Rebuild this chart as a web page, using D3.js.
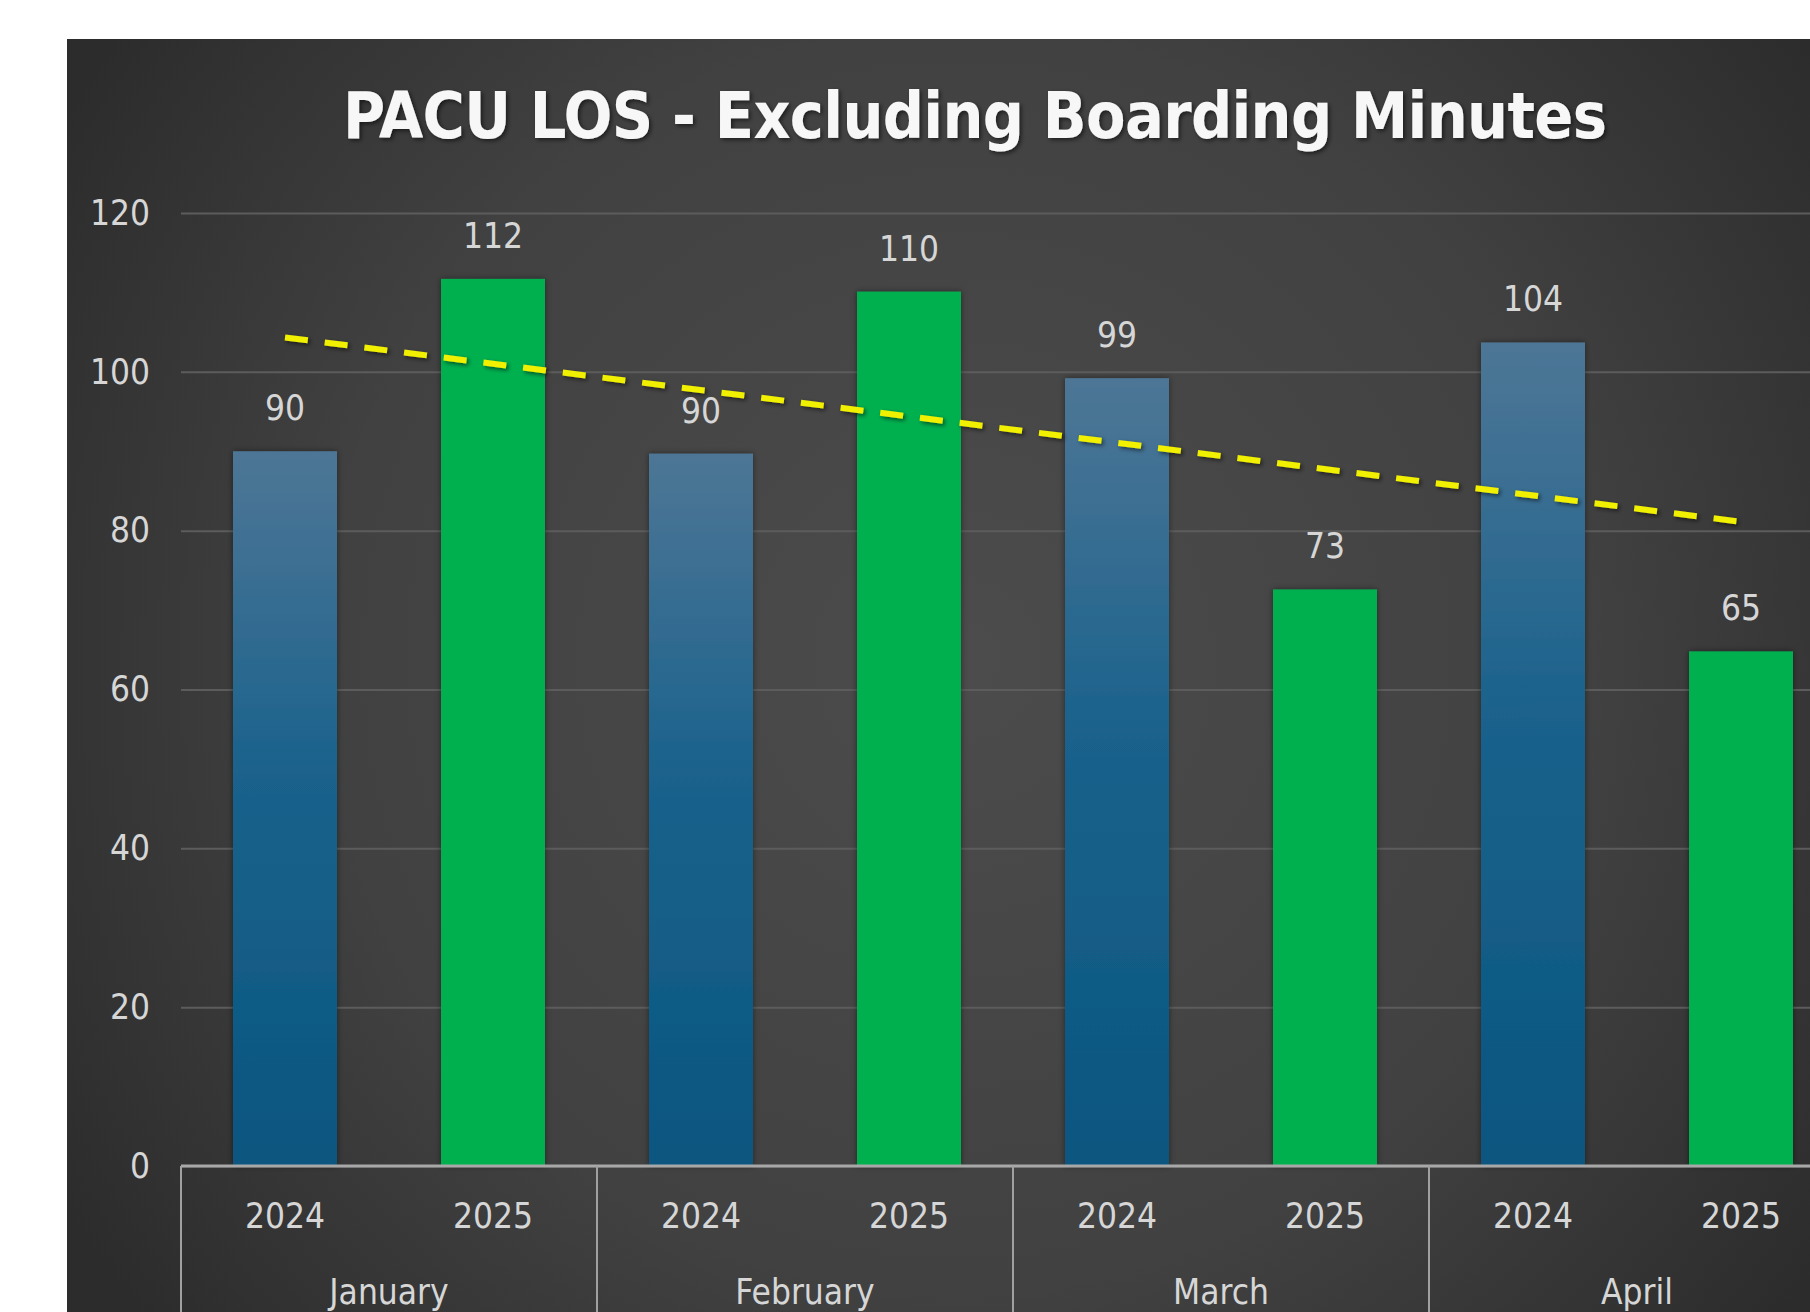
<!DOCTYPE html>
<html>
<head>
<meta charset="utf-8">
<title>PACU LOS - Excluding Boarding Minutes</title>
<script src="https://cdn.jsdelivr.net/npm/d3@7"></script>
<style>
    html, body { margin: 0; padding: 0; background: #ffffff; overflow: hidden; }
    #chart { display: block; }
</style>
</head>
<body>
<div id="chart"></div>
<script>
// Chart data
const months = ['January', 'February', 'March', 'April'];
const years = ['2024', '2025'];
const values2024 = [90.0, 89.7, 99.2, 103.7];
const values2025 = [111.7, 110.1, 72.6, 64.8];
const yTicks = [0, 20, 40, 60, 80, 100, 120];
const titleText = 'PACU LOS - Excluding Boarding Minutes';

document.addEventListener('DOMContentLoaded', function () {
    const width = 1810;
    const height = 1312;
    const plot = { left: 181, right: 1845, top: 213, bottom: 1166 };
    const labelFont = "'Liberation Sans Narrow', 'DejaVu Sans Condensed', 'Liberation Sans', sans-serif";
    const textColor = '#d6d6d6';

    const svg = d3.select('#chart')
        .append('svg')
        .attr('width', width)
        .attr('height', height);

    const defs = svg.append('defs');

    // Dark radial background
    const bg = defs.append('radialGradient')
        .attr('id', 'bg-grad')
        .attr('gradientUnits', 'userSpaceOnUse')
        .attr('cx', 960).attr('cy', 660).attr('r', 1050);
    bg.append('stop').attr('offset', '0%').attr('stop-color', '#4c4c4c');
    bg.append('stop').attr('offset', '60%').attr('stop-color', '#414141');
    bg.append('stop').attr('offset', '100%').attr('stop-color', '#2c2c2c');

    // Blue gradient for 2024 bars
    const blue = defs.append('linearGradient')
        .attr('id', 'blue-grad')
        .attr('x1', 0).attr('y1', 0).attr('x2', 0).attr('y2', 1);
    blue.append('stop').attr('offset', '0%').attr('stop-color', '#4e7696');
    blue.append('stop').attr('offset', '45%').attr('stop-color', '#1a628c');
    blue.append('stop').attr('offset', '100%').attr('stop-color', '#0a5680');

    const shadow = defs.append('filter').attr('id', 'shadow')
        .attr('x', '-20%').attr('y', '-20%').attr('width', '140%').attr('height', '140%');
    shadow.append('feDropShadow')
        .attr('dx', 2).attr('dy', 2).attr('stdDeviation', 2)
        .attr('flood-color', '#000').attr('flood-opacity', 0.55);

    const barShadow = defs.append('filter').attr('id', 'bar-shadow')
        .attr('x', '-20%').attr('y', '-5%').attr('width', '140%').attr('height', '110%');
    barShadow.append('feDropShadow')
        .attr('dx', 0).attr('dy', 0).attr('stdDeviation', 3)
        .attr('flood-color', '#000').attr('flood-opacity', 0.45);

    svg.append('rect')
        .attr('x', 67).attr('y', 39)
        .attr('width', width - 67).attr('height', height - 39)
        .attr('fill', 'url(#bg-grad)');

    // Scales
    const x0 = d3.scaleBand()
        .domain(months)
        .range([plot.left, plot.right])
        .padding(0);

    const x1 = d3.scaleBand()
        .domain(years)
        .range([0, x0.bandwidth()])
        .paddingInner(0.5)
        .paddingOuter(0.25);

    const y = d3.scaleLinear()
        .domain([0, 120])
        .range([plot.bottom, plot.top]);

    // Gridlines + y labels
    const yAxis = svg.append('g')
        .attr('transform', `translate(${plot.left},0)`)
        .call(d3.axisLeft(y).tickValues(yTicks).tickSize(-(plot.right - plot.left)).tickPadding(31));
    yAxis.select('.domain').remove();
    yAxis.selectAll('line').attr('stroke', '#5c5c5c').attr('stroke-width', 2);
    yAxis.selectAll('text')
        .attr('fill', textColor)
        .style('font-family', labelFont)
        .style('font-size', '35px');

    // Bars: one row per month/year
    const rows = [];
    months.forEach((m, i) => {
        rows.push({ month: m, year: '2024', value: values2024[i] });
        rows.push({ month: m, year: '2025', value: values2025[i] });
    });

    svg.append('g')
        .selectAll('rect')
        .data(rows)
        .join('rect')
        .attr('x', d => x0(d.month) + x1(d.year))
        .attr('y', d => y(d.value))
        .attr('width', x1.bandwidth())
        .attr('height', d => y(0) - y(d.value))
        .attr('fill', d => d.year === '2024' ? 'url(#blue-grad)' : '#00b050')
        .attr('filter', 'url(#bar-shadow)');

    // Value labels
    svg.append('g')
        .selectAll('text')
        .data(rows)
        .join('text')
        .attr('x', d => x0(d.month) + x1(d.year) + x1.bandwidth() / 2)
        .attr('y', d => y(d.value) - 31)
        .attr('text-anchor', 'middle')
        .attr('fill', textColor)
        .style('font-family', labelFont)
        .style('font-size', '35px')
        .text(d => d3.format('.0f')(d.value));

    // Linear trendline over all bars, in order
    const n = rows.length;
    const xs = d3.range(1, n + 1);
    const meanX = d3.mean(xs);
    const meanY = d3.mean(rows, d => d.value);
    let sxy = 0, sxx = 0;
    rows.forEach((d, i) => {
        sxy += (xs[i] - meanX) * (d.value - meanY);
        sxx += (xs[i] - meanX) * (xs[i] - meanX);
    });
    const slope = sxy / sxx;
    const trend = i => meanY + slope * (xs[i] - meanX);
    const cx = d => x0(d.month) + x1(d.year) + x1.bandwidth() / 2;

    svg.append('line')
        .attr('x1', cx(rows[0])).attr('y1', y(trend(0)))
        .attr('x2', cx(rows[n - 1])).attr('y2', y(trend(n - 1)))
        .attr('stroke', '#f0f000')
        .attr('stroke-width', 6)
        .attr('stroke-dasharray', '23,17')
        .attr('filter', 'url(#shadow)');

    // X axis line
    svg.append('line')
        .attr('x1', plot.left).attr('x2', plot.right)
        .attr('y1', plot.bottom).attr('y2', plot.bottom)
        .attr('stroke', '#a8a8a8')
        .attr('stroke-width', 3);

    // Group separators
    svg.append('g')
        .selectAll('line')
        .data(months)
        .join('line')
        .attr('x1', d => x0(d)).attr('x2', d => x0(d))
        .attr('y1', plot.bottom).attr('y2', height)
        .attr('stroke', '#a0a0a0')
        .attr('stroke-width', 2);

    // Year labels inside each month
    months.forEach(m => {
        const g = svg.append('g')
            .attr('transform', `translate(${x0(m)},${plot.bottom})`)
            .call(d3.axisBottom(x1).tickSize(0).tickPadding(37));
        g.select('.domain').remove();
        g.selectAll('text')
            .attr('fill', textColor)
            .style('font-family', labelFont)
            .style('font-size', '35px');
    });

    // Month labels
    const monthAxis = svg.append('g')
        .attr('transform', `translate(0,${plot.bottom})`)
        .call(d3.axisBottom(x0).tickSize(0).tickPadding(113));
    monthAxis.select('.domain').remove();
    monthAxis.selectAll('text')
        .attr('fill', textColor)
        .style('font-family', labelFont)
        .style('font-size', '35px');

    // Title
    svg.append('text')
        .attr('x', 975)
        .attr('y', 138)
        .attr('text-anchor', 'middle')
        .attr('textLength', 1264)
        .attr('lengthAdjust', 'spacing')
        .attr('fill', '#f7f7f7')
        .attr('filter', 'url(#shadow)')
        .style('font-family', labelFont)
        .style('font-weight', 'bold')
        .style('font-size', '64px')
        .text(titleText);
});
</script>
</body>
</html>
